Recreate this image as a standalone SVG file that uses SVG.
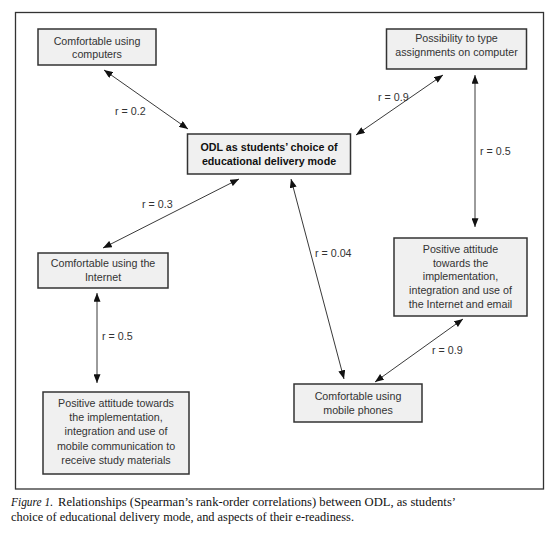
<svg xmlns="http://www.w3.org/2000/svg" width="556" height="535" viewBox="0 0 556 535">
<style>
.box{fill:#f0f0f0;stroke:#333;stroke-width:1.5}
.t{font-family:"Liberation Sans",Arial,sans-serif;font-size:10.7px;fill:#333;text-anchor:middle}
.b{font-weight:bold;fill:#111}
.lbl{font-family:"Liberation Sans",Arial,sans-serif;font-size:10.7px;fill:#333}
.con{stroke:#222;stroke-width:0.9;fill:none;marker-start:url(#ah);marker-end:url(#ah)}
.cap{font-family:"Liberation Serif","Times New Roman",serif;font-size:12.5px;fill:#111}
</style>
<defs>
<marker id="ah" viewBox="0 0 10 8" refX="10" refY="4" markerWidth="9" markerHeight="7" markerUnits="userSpaceOnUse" orient="auto-start-reverse">
<path d="M0,0 L10,4 L0,8 z" fill="#111"/>
</marker>
</defs>
<rect x="0" y="0" width="556" height="535" fill="#fff"/>
<rect x="15.5" y="12.5" width="528" height="476.5" fill="none" stroke="#333" stroke-width="1.3"/>

<g id="connectors">
<line class="con" x1="104" y1="70" x2="188" y2="129"/>
<line class="con" x1="356" y1="135" x2="443" y2="75"/>
<line class="con" x1="475" y1="75" x2="475" y2="227"/>
<line class="con" x1="239" y1="179" x2="103" y2="248"/>
<line class="con" x1="291" y1="179" x2="344" y2="379"/>
<line class="con" x1="97" y1="293" x2="97" y2="383"/>
<line class="con" x1="375" y1="382" x2="463" y2="319"/>
<text class="lbl" x="115" y="115">r = 0.2</text>
<text class="lbl" x="378" y="101">r = 0.9</text>
<text class="lbl" x="480" y="155">r = 0.5</text>
<text class="lbl" x="142" y="208">r = 0.3</text>
<text class="lbl" x="315" y="257">r = 0.04</text>
<text class="lbl" x="102" y="340">r = 0.5</text>
<text class="lbl" x="432" y="354">r = 0.9</text>
</g>

<g id="n-computers">
<rect class="box" x="38" y="29" width="118" height="36"/>
<text class="t" x="97" y="45">Comfortable using</text>
<text class="t" x="97" y="58">computers</text>
</g>

<g id="n-type">
<rect class="box" x="386.5" y="29" width="140" height="40"/>
<text class="t" x="456.5" y="42">Possibility to type</text>
<text class="t" x="456.5" y="56">assignments on computer</text>
</g>

<g id="n-odl">
<rect class="box" x="187.5" y="134" width="163" height="40"/>
<text class="t b" x="269" y="151">ODL as students’ choice of</text>
<text class="t b" x="269" y="165">educational delivery mode</text>
</g>

<g id="n-internet">
<rect class="box" x="38" y="253" width="130" height="35"/>
<text class="t" x="103" y="267">Comfortable using the</text>
<text class="t" x="103" y="281">Internet</text>
</g>

<g id="n-attitude-internet">
<rect class="box" x="394" y="238" width="133" height="78"/>
<text class="t" x="460.5" y="253">Positive attitude</text>
<text class="t" x="460.5" y="267">towards the</text>
<text class="t" x="460.5" y="280">implementation,</text>
<text class="t" x="460.5" y="294">integration and use of</text>
<text class="t" x="460.5" y="308">the Internet and email</text>
</g>

<g id="n-mobile">
<rect class="box" x="294" y="384" width="128" height="38"/>
<text class="t" x="358" y="400">Comfortable using</text>
<text class="t" x="358" y="414">mobile phones</text>
</g>

<g id="n-attitude-mobile">
<rect class="box" x="43" y="392" width="146" height="82"/>
<text class="t" x="116" y="407">Positive attitude towards</text>
<text class="t" x="116" y="421">the implementation,</text>
<text class="t" x="116" y="435">integration and use of</text>
<text class="t" x="116" y="450">mobile communication to</text>
<text class="t" x="116" y="464">receive study materials</text>
</g>

<g id="caption">
<text class="cap" x="11" y="506" font-style="italic" textLength="42" lengthAdjust="spacingAndGlyphs">Figure 1.</text>
<text class="cap" x="58" y="506" textLength="398" lengthAdjust="spacingAndGlyphs">Relationships (Spearman’s rank-order correlations) between ODL, as students’</text>
<text class="cap" x="11" y="521" textLength="343" lengthAdjust="spacingAndGlyphs">choice of educational delivery mode, and aspects of their e-readiness.</text>
</g>
</svg>
